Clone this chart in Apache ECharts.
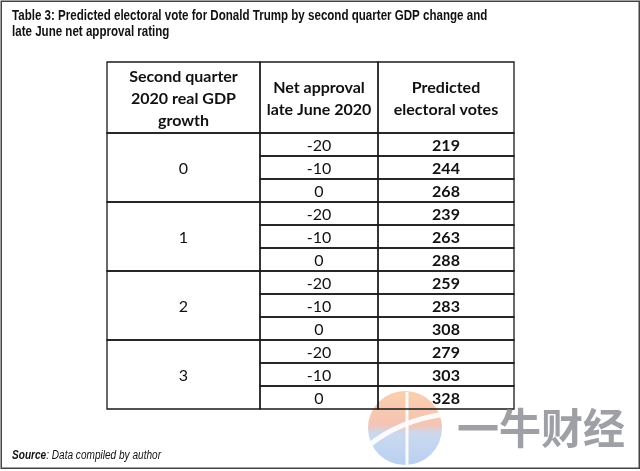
<!DOCTYPE html>
<html>
<head>
<meta charset="utf-8">
<script src="https://cdn.jsdelivr.net/npm/echarts@6/dist/echarts.min.js"></script>
<style>
html,body{margin:0;padding:0;background:#fff;}
#chart{width:640px;height:471px;}
</style>
</head>
<body>
<div id="chart"></div>
<script>
// ---- data ----
const titleText = 'Table 3: Predicted electoral vote for Donald Trump by second quarter GDP change and\nlate June net approval rating';
const headers = ['Second quarter\n2020 real GDP\ngrowth', 'Net approval\nlate June 2020', 'Predicted\nelectoral votes'];
const gdpGrowth = ['0', '1', '2', '3'];
const netApproval = ['-20', '-10', '0'];
const electoralVotes = [219, 244, 268, 239, 263, 288, 259, 283, 308, 279, 303, 328];
const sourceLabel = 'Source';
const sourceText = ': Data compiled by author';
const watermark = '一牛财经';

// ---- layout (axis units) ----
const colEdges = [0, 153, 271, 407];
const headerH = 71;
const rowH = 23;
const tableH = headerH + rowH * electoralVotes.length;

const chart = echarts.init(document.getElementById('chart'), null, {renderer: 'canvas'});

const lineColor = '#1a1a1a';
const tableFont = 'Lato, "Open Sans", sans-serif';
const sansFont = '"Liberation Sans", Arial, sans-serif';

function cellRect(api, x0, y0, x1, y1) {
  const p0 = api.coord([x0, y0]);
  const p1 = api.coord([x1, y1]);
  return {x: p0[0], y: p0[1], width: p1[0] - p0[0], height: p1[1] - p0[1]};
}

function cell(api, x0, y0, x1, y1, text, bold) {
  const r = cellRect(api, x0, y0, x1, y1);
  return [
    {type: 'rect', shape: r, style: {fill: 'transparent', stroke: lineColor, lineWidth: 1.3}},
    {type: 'text', x: r.x + r.width / 2, y: r.y + r.height / 2 + 1,
     style: {text: text, align: 'center', verticalAlign: 'middle',
             font: (bold ? 'bold ' : '') + '16px ' + tableFont,
             lineHeight: 22, fill: '#111'}}
  ];
}

function renderItem(params, api) {
  const i = api.value(0);
  let children = [];
  if (i < 0) {
    for (let c = 0; c < 3; c++) {
      children = children.concat(cell(api, colEdges[c], 0, colEdges[c + 1], headerH, headers[c], true));
    }
  } else {
    const y0 = headerH + i * rowH;
    const k = i % netApproval.length;
    const g = Math.floor(i / netApproval.length);
    if (k === 0) {
      children = children.concat(cell(api, colEdges[0], y0, colEdges[1], y0 + rowH * netApproval.length, gdpGrowth[g], false));
    }
    children = children.concat(cell(api, colEdges[1], y0, colEdges[2], y0 + rowH, netApproval[k], false));
    children = children.concat(cell(api, colEdges[2], y0, colEdges[3], y0 + rowH, String(api.value(1)), true));
  }
  return {type: 'group', children: children};
}

const seriesData = [[-1, 0]].concat(electoralVotes.map((v, i) => [i, v]));

chart.setOption({
  animation: false,
  backgroundColor: '#fff',
  grid: {left: 107, top: 62, width: 407, height: tableH},
  xAxis: {type: 'value', min: 0, max: colEdges[3], show: false},
  yAxis: {type: 'value', min: 0, max: tableH, inverse: true, show: false},
  series: [{
    type: 'custom',
    renderItem: renderItem,
    data: seriesData,
    encode: {x: -1, y: -1},
    clip: false,
    silent: true
  }],
  graphic: [
    {type: 'rect', left: 0.5, top: 0.5, shape: {width: 638, height: 467},
     style: {fill: 'transparent', stroke: '#444', lineWidth: 1.5}, z: 1},
    {type: 'text', x: 12, y: 8, scaleX: 0.826,
     style: {text: titleText, font: 'bold 14px ' + sansFont, lineHeight: 16, fill: '#111'}},
    {type: 'text', x: 12, y: 450, scaleX: 0.84,
     style: {text: '{b|' + sourceLabel + '}' + sourceText,
             font: 'italic 12px ' + sansFont, fill: '#111',
             rich: {b: {font: 'italic bold 12px ' + sansFont, fill: '#111'}}}},
    {type: 'group', z: 10, children: [
      {type: 'circle', shape: {cx: 405, cy: 428, r: 37},
       style: {opacity: 0.62, fill: {type: 'linear', x: 0, y: 0, x2: 0, y2: 1,
         colorStops: [{offset: 0, color: '#f7b27a'}, {offset: 0.45, color: '#ee9f86'}, {offset: 0.58, color: '#a9c1e6'}, {offset: 1, color: '#8fb3e8'}]}}},
      {type: 'line', shape: {x1: 407, y1: 392, x2: 407, y2: 465},
       style: {stroke: '#fff', lineWidth: 3, opacity: 0.9}},
      {type: 'bezierCurve', shape: {x1: 368, y1: 446, cpx1: 400, cpy1: 420, x2: 446, y2: 414},
       style: {stroke: '#fff', lineWidth: 5, fill: 'none', opacity: 0.9}}
    ]},
    {type: 'text', x: 457, y: 407, z: 10,
     style: {text: watermark, font: 'bold 42px "Noto Sans CJK SC", sans-serif', fill: '#8e8f95', opacity: 0.85}}
  ]
});
</script>
</body>
</html>
